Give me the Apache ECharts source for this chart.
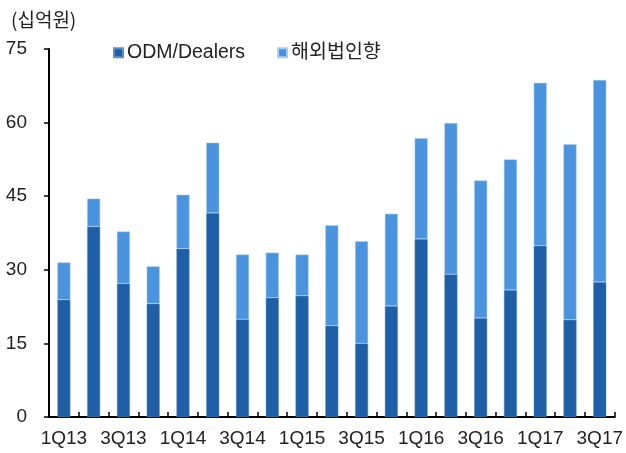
<!DOCTYPE html>
<html><head><meta charset="utf-8">
<script src="https://cdn.jsdelivr.net/npm/echarts@6/dist/echarts.min.js"></script>
<style>html,body{margin:0;padding:0;background:#fff}#c{width:626px;height:453px}</style>
</head><body><div id="c"></div>
<script>
var categories = ['1Q13','2Q13','3Q13','4Q13','1Q14','2Q14','3Q14','4Q14','1Q15','2Q15','3Q15','4Q15','1Q16','2Q16','3Q16','4Q16','1Q17','2Q17','3Q17'];
var odmDealers = [23.9,38.8,27.2,23.1,34.3,41.6,19.9,24.3,24.7,18.6,15.0,22.6,36.3,29.1,20.2,25.9,34.9,19.8,27.5];
var totals = [31.5,44.5,37.8,30.7,45.3,55.9,33.1,33.5,33.1,39.1,35.8,41.4,56.8,59.9,48.2,52.5,68.1,55.6,68.7];
var overseas = totals.map(function(t,i){return Math.round((t-odmDealers[i])*10)/10;});
var font = '"Liberation Sans","Noto Sans CJK KR",sans-serif';
var chart = echarts.init(document.getElementById('c'));
chart.setOption({
  animation:false,
  textStyle:{fontFamily:font},
  title:{text:'(십억원)',left:6,top:5,textStyle:{fontSize:19,fontWeight:'normal',color:'#222',fontFamily:'"Noto Sans CJK KR",sans-serif'}},
  legend:{top:38,left:108,itemWidth:9,itemHeight:9,itemGap:32,icon:'rect',
    textStyle:{fontSize:19.5,color:'#222',padding:[0,0,0,-1],fontFamily:'"Liberation Sans","Noto Sans CJK KR",sans-serif'},
    data:['ODM/Dealers','해외법인향']},
  grid:{left:49,right:11,top:49,bottom:36},
  xAxis:{type:'category',data:categories,
    axisLine:{lineStyle:{color:'#000',width:2}},
    axisTick:{show:true,inside:true,length:5,alignWithLabel:false,interval:0,lineStyle:{color:'#000',width:1.5}},
    axisLabel:{interval:1,fontSize:19,color:'#222',margin:12}},
  yAxis:{type:'value',min:0,max:75,interval:15,
    axisLine:{show:true,lineStyle:{color:'#000',width:2}},
    axisTick:{show:true,length:5,lineStyle:{color:'#000',width:1.5}},
    splitLine:{show:false},
    axisLabel:{fontSize:19,color:'#222',margin:22}},
  series:[
    {name:'ODM/Dealers',type:'bar',stack:'s',data:odmDealers,barWidth:13,itemStyle:{color:'#1E5FA8',borderColor:'#5f8fc8',borderWidth:0.5}},
    {name:'해외법인향',type:'bar',stack:'s',data:overseas,barWidth:13,itemStyle:{color:'#4A94DF',borderColor:'#a8cdf0',borderWidth:0.5}}
  ]
});
</script></body></html>
